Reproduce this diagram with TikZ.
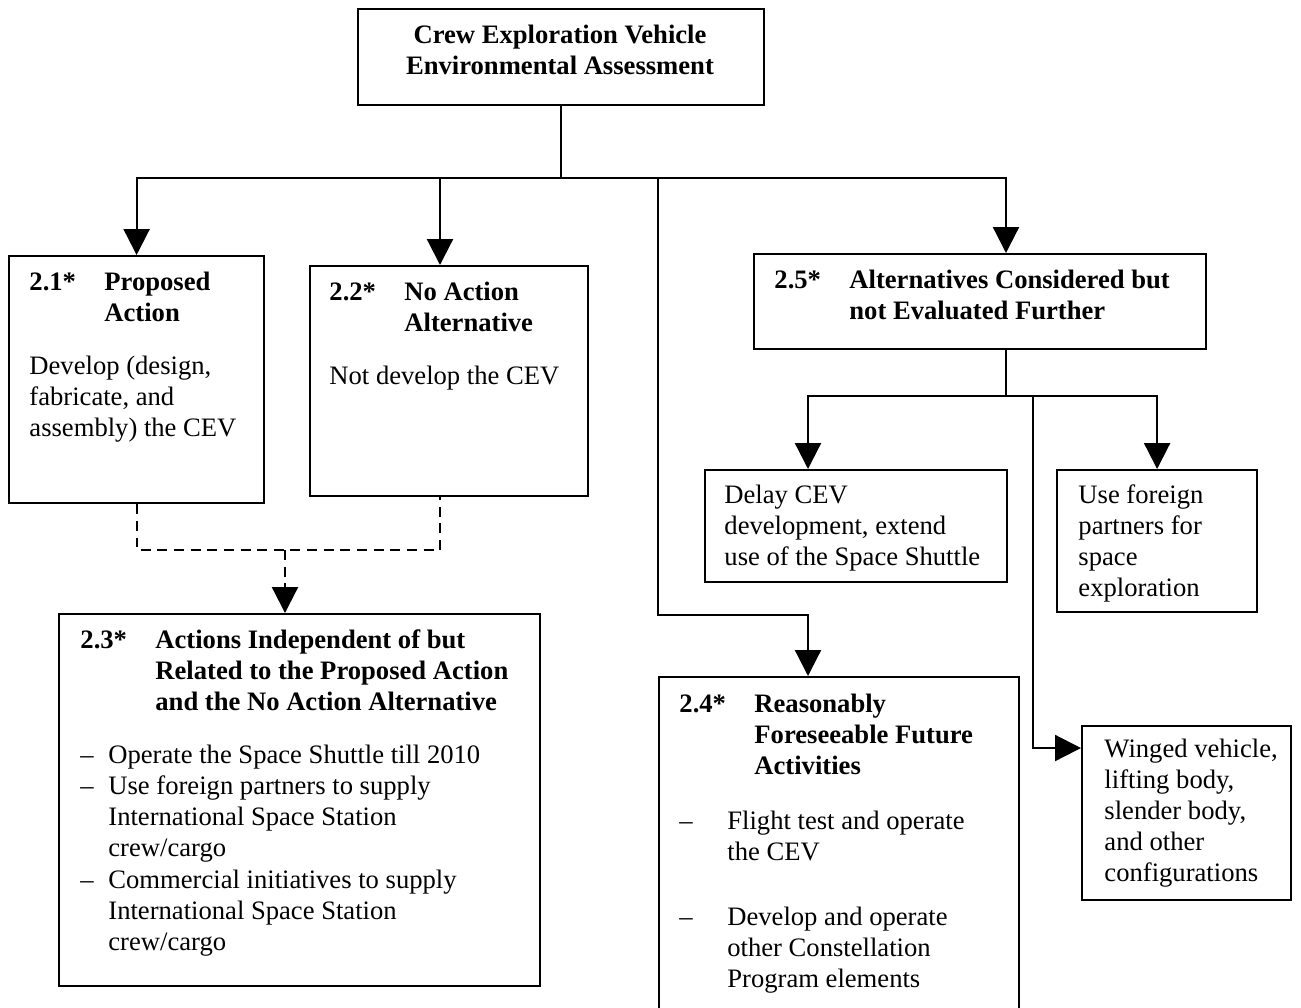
\documentclass[tikz,border=0pt]{standalone}
\usepackage{fontspec}
\setmainfont{Liberation Serif}
\usetikzlibrary{arrows.meta}

\newcommand{\nr}[1]{\makebox[33.8pt][l]{#1}} % numero da secao
\newcommand{\tb}{\hspace*{33.8pt}}
\newcommand{\itm}[1]{\makebox[#1][l]{--}}

\tikzset{
  panel/.style 2 args={draw, line width=1pt, inner sep=0pt, anchor=north west,
    minimum width=#1*0.4508pt, minimum height=#2*0.4508pt},
  txt/.style={anchor=north west, inner sep=0pt, yshift=9.8pt, align=left,
    font=\fontsize{12}{14}\selectfont},
  wire/.style={line width=1pt},
  link/.style={wire, -{Triangle[length=11.7pt,width=11.7pt]}},
  dsh/.style={wire, dash pattern=on 4.5pt off 3pt},
}

\begin{document}
\begin{tikzpicture}[x=0.4508pt, y=-0.4508pt]
    \useasboundingbox (0,0) rectangle (1301,1007);
            %Caixas
        \node[panel={406}{96}] (cev) at (357,8) {};
        \node[panel={255}{247}] (p21) at (8,255) {};
        \node[panel={278}{230}] (p22) at (309,265) {};
        \node[panel={481}{372}] (p23) at (58,613) {};
        \node[panel={360}{345}] (p24) at (658,676) {};
        \node[panel={452}{95}] (p25) at (753,253) {};
        \node[panel={302}{112}] (dly) at (704,469) {};
        \node[panel={200}{142}] (use) at (1056,469) {};
        \node[panel={209}{174}] (win) at (1081,725) {};

            %Textos
        \node[txt, anchor=north, align=center] (cevt) at (560,43)
            {\strut\textbf{Crew Exploration Vehicle}\\\textbf{Environmental Assessment}};
        \node[txt] (t21) at (29,290) {\strut\textbf{\nr{2.1*}Proposed}\\\textbf{\tb Action}\\[10pt]
            Develop (design,\\fabricate, and\\assembly) the CEV};
        \node[txt] (t22) at (329,300) {\strut\textbf{\nr{2.2*}No Action}\\\textbf{\tb Alternative}\\[10pt]
            Not develop the CEV};
        \node[txt] (t23) at (80,648) {\strut\textbf{\nr{2.3*}Actions Independent of but}\\
            \textbf{\tb Related to the Proposed Action}\\\textbf{\tb and the No Action Alternative}\\[10pt]
            \itm{12.6pt}Operate the Space Shuttle till 2010\\
            \itm{12.6pt}Use foreign partners to supply\\\hspace*{12.6pt}International Space Station\\\hspace*{12.6pt}crew/cargo\\
            \itm{12.6pt}Commercial initiatives to supply\\\hspace*{12.6pt}International Space Station\\\hspace*{12.6pt}crew/cargo};
        \node[txt] (t24) at (679,712) {\strut\textbf{\nr{2.4*}Reasonably}\\\textbf{\tb Foreseeable Future}\\\textbf{\tb Activities}\\[10.8pt]
            \itm{21.6pt}Flight test and operate\\\hspace*{21.6pt}the CEV\\[15.3pt]
            \itm{21.6pt}Develop and operate\\\hspace*{21.6pt}other Constellation\\\hspace*{21.6pt}Program elements};
        \node[txt] (t25) at (774,288) {\strut\textbf{\nr{2.5*}Alternatives Considered but}\\\textbf{\tb not Evaluated Further}};
        \node[txt] (dlyt) at (724,503) {\strut Delay CEV\\development, extend\\use of the Space Shuttle};
        \node[txt] (uset) at (1078,503) {\strut Use foreign\\partners for\\space\\exploration};
        \node[txt] (wint) at (1104,757) {\strut Winged vehicle,\\lifting body,\\slender body,\\and other\\configurations};

            %Ligacoes
        \coordinate (bus) at (cev.south |- 0,178);
        \draw[wire] (cev.south) -- (bus);
        \draw[link] (bus) -| (p21.north);
        \draw[link] (bus) -| (440,0 |- p22.north);
        \draw[link] (bus) -| (1006,0 |- p25.north);
        \draw[link] (bus) -| (658,615) -| (808,0 |- p24.north);

        \coordinate (sub) at (1006,396);
        \draw[wire] (1006,0 |- p25.south) -- (sub);
        \draw[link] (sub) -| (808,0 |- dly.north);
        \draw[link] (sub) -| (use.north);
        \draw[link] (sub) -| (1033,748) -- (win.west |- 0,748);

            %Tracejado
        \coordinate (jn) at (285,550);
        \draw[dsh] (p21.south) |- (440,550) -- (440,0 |- p22.south);
        \draw[dsh, -{Triangle[length=11.7pt,width=11.7pt]}] (jn) -- (285,0 |- p23.north);
\end{tikzpicture}
\end{document}
